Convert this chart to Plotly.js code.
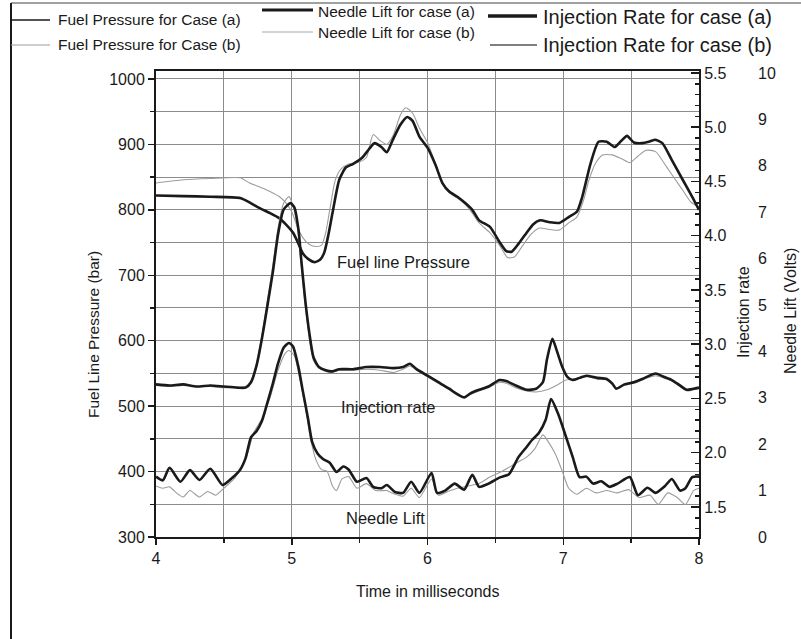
<!DOCTYPE html>
<html>
<head>
<meta charset="utf-8">
<script src="https://cdn.plot.ly/plotly-3.0.1.min.js"></script>
<style>
  html, body { margin: 0; padding: 0; background: #fff; }
  #chart { width: 801px; height: 639px; }
</style>
</head>
<body>
<div id="chart"></div>
<script>
// Fuel line pressure (bar), left axis
const fuelTimeA = [4.00, 4.20, 4.40, 4.62, 4.70, 4.76, 4.84, 4.91, 4.96, 5.01, 5.05, 5.08, 5.12, 5.17, 5.21, 5.24, 5.27, 5.30, 5.35, 5.40, 5.45, 5.52, 5.57, 5.61, 5.66, 5.70, 5.74, 5.80, 5.85, 5.89, 5.94, 6.00, 6.06, 6.11, 6.16, 6.22, 6.28, 6.33, 6.38, 6.46, 6.53, 6.58, 6.62, 6.67, 6.73, 6.78, 6.83, 6.90, 6.97, 7.04, 7.10, 7.14, 7.20, 7.26, 7.32, 7.38, 7.43, 7.47, 7.52, 7.58, 7.63, 7.68, 7.73, 7.80, 7.88, 7.95, 8.00];
const fuelPressA = [822, 821, 820, 818, 810, 803, 795, 787, 777, 765, 748, 734, 725, 720, 724, 735, 762, 795, 846, 865, 870, 880, 893, 902, 896, 888, 905, 930, 942, 936, 912, 895, 868, 841, 828, 820, 810, 800, 784, 774, 751, 737, 736, 748, 765, 778, 784, 781, 780, 789, 797, 820, 870, 904, 904, 896, 906, 913, 903, 902, 904, 907, 902, 876, 846, 820, 800];

const fuelTimeB = [4.00, 4.20, 4.40, 4.62, 4.69, 4.80, 4.91, 4.96, 5.00, 5.04, 5.08, 5.13, 5.18, 5.22, 5.25, 5.28, 5.32, 5.36, 5.42, 5.50, 5.55, 5.60, 5.65, 5.70, 5.75, 5.80, 5.84, 5.89, 5.94, 6.00, 6.06, 6.11, 6.16, 6.22, 6.28, 6.33, 6.38, 6.46, 6.53, 6.59, 6.64, 6.70, 6.76, 6.82, 6.90, 6.97, 7.04, 7.10, 7.15, 7.19, 7.24, 7.29, 7.36, 7.43, 7.49, 7.55, 7.61, 7.68, 7.76, 7.82, 7.88, 7.94, 8.00];
const fuelPressB = [841, 846, 848, 849, 841, 832, 820, 810, 797, 775, 758, 747, 744, 746, 765, 800, 845, 862, 870, 873, 880, 915, 906, 900, 915, 945, 956, 948, 925, 903, 870, 840, 826, 818, 808, 795, 780, 765, 746, 727, 728, 745, 762, 772, 770, 769, 780, 789, 815, 846, 872, 884, 884, 878, 872, 882, 891, 889, 866, 848, 830, 812, 804];

// Injection rate, first right axis
const injTimeA = [4.00, 4.10, 4.20, 4.30, 4.40, 4.50, 4.60, 4.66, 4.70, 4.74, 4.78, 4.82, 4.86, 4.90, 4.94, 4.99, 5.02, 5.05, 5.07, 5.10, 5.13, 5.16, 5.20, 5.25, 5.30, 5.35, 5.45, 5.55, 5.65, 5.75, 5.82, 5.87, 5.92, 6.00, 6.08, 6.16, 6.22, 6.27, 6.32, 6.38, 6.45, 6.53, 6.58, 6.65, 6.73, 6.80, 6.85, 6.88, 6.92, 6.95, 6.99, 7.03, 7.07, 7.12, 7.17, 7.25, 7.32, 7.36, 7.39, 7.45, 7.52, 7.60, 7.68, 7.74, 7.80, 7.86, 7.91, 7.96, 8.00];
const injRateA = [2.63, 2.62, 2.63, 2.61, 2.62, 2.61, 2.60, 2.60, 2.65, 2.80, 3.05, 3.35, 3.66, 4.02, 4.24, 4.30, 4.26, 4.05, 3.78, 3.40, 3.10, 2.88, 2.79, 2.76, 2.75, 2.77, 2.77, 2.79, 2.79, 2.78, 2.79, 2.82, 2.77, 2.71, 2.65, 2.59, 2.54, 2.51, 2.55, 2.58, 2.61, 2.67, 2.66, 2.62, 2.58, 2.59, 2.65, 2.86, 3.05, 2.95, 2.80, 2.70, 2.67, 2.69, 2.71, 2.69, 2.68, 2.64, 2.59, 2.63, 2.65, 2.69, 2.73, 2.70, 2.67, 2.62, 2.58, 2.59, 2.60];

const injTimeB = [4.00, 4.10, 4.20, 4.30, 4.40, 4.50, 4.60, 4.66, 4.70, 4.74, 4.78, 4.82, 4.86, 4.90, 4.94, 4.98, 5.02, 5.05, 5.07, 5.10, 5.13, 5.16, 5.20, 5.25, 5.30, 5.35, 5.45, 5.55, 5.65, 5.75, 5.82, 5.87, 5.92, 6.00, 6.08, 6.16, 6.22, 6.27, 6.32, 6.38, 6.45, 6.53, 6.58, 6.65, 6.73, 6.80, 6.88, 6.95, 7.02, 7.10, 7.17, 7.25, 7.32, 7.36, 7.39, 7.45, 7.52, 7.60, 7.68, 7.74, 7.80, 7.86, 7.91, 7.96, 8.00];
const injRateB = [2.62, 2.61, 2.62, 2.61, 2.61, 2.60, 2.60, 2.61, 2.66, 2.82, 3.08, 3.40, 3.72, 4.08, 4.30, 4.36, 4.22, 4.00, 3.72, 3.35, 3.05, 2.85, 2.78, 2.75, 2.74, 2.76, 2.76, 2.77, 2.76, 2.74, 2.77, 2.80, 2.76, 2.70, 2.64, 2.58, 2.53, 2.51, 2.54, 2.57, 2.60, 2.65, 2.64, 2.60, 2.57, 2.56, 2.58, 2.62, 2.67, 2.68, 2.70, 2.68, 2.67, 2.63, 2.60, 2.62, 2.64, 2.68, 2.71, 2.69, 2.66, 2.61, 2.57, 2.58, 2.59];

// Needle lift (Volts), second right axis
const liftTimeA = [4.00, 4.05, 4.10, 4.18, 4.25, 4.32, 4.40, 4.49, 4.56, 4.62, 4.66, 4.70, 4.74, 4.78, 4.82, 4.86, 4.90, 4.94, 4.98, 5.01, 5.05, 5.08, 5.12, 5.15, 5.19, 5.23, 5.28, 5.33, 5.38, 5.42, 5.48, 5.55, 5.60, 5.66, 5.70, 5.76, 5.82, 5.88, 5.94, 6.03, 6.07, 6.13, 6.20, 6.27, 6.33, 6.38, 6.45, 6.53, 6.60, 6.67, 6.73, 6.77, 6.82, 6.87, 6.91, 6.96, 7.02, 7.07, 7.12, 7.17, 7.22, 7.28, 7.34, 7.40, 7.49, 7.55, 7.62, 7.68, 7.75, 7.80, 7.86, 7.90, 7.95, 8.00];
const liftVoltsA = [1.30, 1.22, 1.49, 1.19, 1.44, 1.23, 1.47, 1.12, 1.27, 1.45, 1.70, 2.15, 2.28, 2.50, 2.89, 3.30, 3.75, 4.08, 4.18, 4.10, 3.65, 3.17, 2.55, 2.05, 1.80, 1.68, 1.60, 1.40, 1.52, 1.45, 1.19, 1.27, 1.08, 1.05, 1.12, 0.97, 0.95, 1.19, 0.95, 1.38, 0.95, 1.00, 1.15, 1.02, 1.34, 1.08, 1.15, 1.28, 1.35, 1.72, 1.94, 2.09, 2.24, 2.52, 2.97, 2.67, 2.16, 1.72, 1.29, 1.30, 1.15, 1.20, 1.08, 1.15, 1.29, 0.90, 1.06, 0.95, 1.10, 1.25, 1.00, 1.05, 1.29, 1.30];

const liftTimeB = [4.00, 4.05, 4.10, 4.15, 4.20, 4.25, 4.32, 4.38, 4.44, 4.50, 4.58, 4.63, 4.68, 4.72, 4.78, 4.84, 4.90, 4.95, 4.98, 5.02, 5.06, 5.10, 5.14, 5.18, 5.22, 5.26, 5.30, 5.33, 5.37, 5.42, 5.48, 5.55, 5.62, 5.70, 5.76, 5.82, 5.88, 5.94, 6.03, 6.08, 6.15, 6.22, 6.30, 6.38, 6.46, 6.54, 6.60, 6.67, 6.73, 6.79, 6.85, 6.89, 6.94, 6.99, 7.04, 7.10, 7.17, 7.24, 7.32, 7.40, 7.48, 7.56, 7.64, 7.70, 7.77, 7.84, 7.90, 7.96, 8.00];
const liftVoltsB = [1.10, 1.05, 1.08, 0.95, 0.86, 1.00, 0.86, 0.98, 0.90, 1.05, 1.27, 1.50, 1.85, 2.25, 2.55, 3.00, 3.60, 3.95, 4.02, 3.90, 3.40, 2.80, 2.10, 1.65, 1.45, 1.42, 1.10, 1.00, 1.25, 1.30, 1.05, 1.15, 1.00, 1.00, 0.92, 0.88, 1.05, 0.85, 1.25, 0.90, 0.98, 1.05, 1.10, 1.15, 1.29, 1.40, 1.50, 1.62, 1.72, 1.90, 2.20, 2.05, 1.80, 1.44, 1.05, 0.92, 1.05, 0.95, 1.00, 0.95, 1.02, 0.85, 0.90, 0.70, 0.95, 0.85, 0.70, 1.00, 1.05];

// Axis tick values and texts
const timeTicks = [4, 5, 6, 7, 8];
const pressureTicks = [300, 400, 500, 600, 700, 800, 900, 1000];
const injectionTicks = [1.5, 2.0, 2.5, 3.0, 3.5, 4.0, 4.5, 5.0, 5.5];
const injectionTickText = ['1.5', '2.0', '2.5', '3.0', '3.5', '4.0', '4.5', '5.0', '5.5'];
const liftTicks = [0, 1, 2, 3, 4, 5, 6, 7, 8, 9, 10];

const legendLabels = [
  'Fuel Pressure for Case (a)', 'Fuel Pressure for Case (b)',
  'Needle Lift for case (a)', 'Needle Lift for case (b)',
  'Injection Rate for case (a)', 'Injection Rate for case (b)'
];

// ---- page geometry (pixels) ----
const W = 801, H = 639;
const M = { l: 156, r: 0, t: 71, b: 102 };
const plotRight = 699;
const paperW = W - M.l - M.r, paperH = H - M.t - M.b;
const px = x => (x - M.l) / paperW;          // page x -> paper x
const py = y => (H - M.b - y) / paperH;      // page y -> paper y

const FONT = 'Liberation Sans, Arial, sans-serif';
const INK = '#1a1a1a';
const GRID = '#8c8c8c';
const THIN = '#9c9c9c';

const line = (x, y, axis, width, color) => ({
  x, y, yaxis: axis, type: 'scatter', mode: 'lines', showlegend: false,
  hoverinfo: 'skip',
  line: { color, width, shape: 'spline', smoothing: 0.6 }
});

const traces = [
  line(fuelTimeB, fuelPressB, 'y', 1.1, THIN),
  line(injTimeB, injRateB, 'y2', 1.1, THIN),
  line(liftTimeB, liftVoltsB, 'y3', 1.1, THIN),
  line(fuelTimeA, fuelPressA, 'y', 2.6, INK),
  line(injTimeA, injRateA, 'y2', 2.6, INK),
  line(liftTimeA, liftVoltsA, 'y3', 2.6, INK)
];

// white panels behind the in-plot labels (they break the grid)
const panel = (x0, x1, y0, y1) => ({
  type: 'rect', xref: 'paper', yref: 'paper', layer: 'between',
  x0: px(x0), x1: px(x1), y0: py(y1), y1: py(y0),
  fillcolor: '#ffffff', line: { width: 0 }
});
const seg = (x0, x1, y0, y1, width, color) => ({
  type: 'line', xref: 'paper', yref: 'paper',
  x0: px(x0), x1: px(x1), y0: py(y0), y1: py(y1),
  line: { color, width }
});

const shapes = [
  panel(326, 482, 246, 279),
  panel(327, 448, 393, 423),
  panel(333, 440, 504, 535),
  // outer frame
  seg(11, 801, 3, 3, 1.5, '#808080'),
  seg(11, 11, 3, 639, 2, INK),
  // legend keys
  seg(11, 50, 20, 20, 1.5, INK),
  seg(11, 50, 45, 45, 1.2, THIN),
  seg(262, 313, 10, 10, 3, INK),
  seg(262, 313, 32, 32, 1.2, '#a8a8a8'),
  seg(488, 537, 16, 16, 3.5, INK),
  seg(490, 537, 45, 45, 1.5, '#555555')
];

const note = (text, x, y, size, extra) => Object.assign({
  text, xref: 'paper', yref: 'paper', x: px(x), y: py(y),
  xanchor: 'center', yanchor: 'middle', showarrow: false,
  font: { family: FONT, size, color: INK }
}, extra || {});

const annotations = [
  note('Fuel line Pressure', 403, 262, 16.5),
  note('Injection rate', 388, 407, 16.5),
  note('Needle Lift', 385, 518, 16.5),
  note('Time in milliseconds', 427, 591, 16),
  note('Fuel Line Pressure (bar)', 93, 335, 15.5, { textangle: -90 }),
  note('Injection rate', 743, 312, 16, { textangle: -90 }),
  note('Needle Lift (Volts)', 790, 311, 16, { textangle: -90 }),
  note(legendLabels[0], 56, 20, 15.5, { xanchor: 'left' }),
  note(legendLabels[1], 56, 45, 15.5, { xanchor: 'left' }),
  note(legendLabels[2], 316, 11, 15.5, { xanchor: 'left' }),
  note(legendLabels[3], 316, 33, 15.5, { xanchor: 'left' }),
  note(legendLabels[4], 541, 17, 20, { xanchor: 'left' }),
  note(legendLabels[5], 541, 45, 20, { xanchor: 'left' })
];

const tickFont = { family: FONT, size: 16, color: INK };

const layout = {
  width: W, height: H,
  margin: M,
  paper_bgcolor: '#ffffff', plot_bgcolor: '#ffffff',
  font: { family: FONT, size: 16, color: INK },
  showlegend: false,
  xaxis: {
    domain: [0, px(plotRight)],
    range: [4, 8], tickvals: timeTicks, ticktext: timeTicks.map(String),
    ticks: 'outside', ticklen: 6, tickwidth: 1.5, tickcolor: INK,
    showline: true, linecolor: INK, linewidth: 2, mirror: true,
    showgrid: true, gridcolor: GRID, gridwidth: 1,
    minor: { dtick: 0.5, tick0: 4, ticks: 'outside', ticklen: 4, tickcolor: INK, showgrid: true, gridcolor: GRID, gridwidth: 1 },
    tickfont: tickFont, zeroline: false, fixedrange: true
  },
  yaxis: {
    range: [300, 1012.2], tickvals: pressureTicks, ticktext: pressureTicks.map(String),
    ticks: 'outside', ticklen: 6, tickwidth: 1.5, tickcolor: INK,
    showline: true, linecolor: INK, linewidth: 2,
    showgrid: true, gridcolor: GRID, gridwidth: 1,
    minor: { dtick: 50, tick0: 300, ticks: 'outside', ticklen: 4, tickcolor: INK, showgrid: true, gridcolor: GRID, gridwidth: 1 },
    tickfont: tickFont, zeroline: false, fixedrange: true
  },
  yaxis2: {
    overlaying: 'y', side: 'right', anchor: 'x',
    range: [1.2235, 5.518], tickvals: injectionTicks, ticktext: injectionTickText,
    ticks: 'inside', ticklen: 8, tickwidth: 1.5, tickcolor: INK,
    showline: true, linecolor: INK, linewidth: 2,
    showgrid: false, zeroline: false,
    minor: { dtick: 0.1, tick0: 1.5, ticks: 'inside', ticklen: 4, tickcolor: INK },
    tickfont: tickFont, fixedrange: true
  },
  yaxis3: {
    overlaying: 'y', side: 'right', anchor: 'free', position: px(757),
    range: [-0.001, 10.043], tickvals: liftTicks, ticktext: liftTicks.map(String),
    ticks: '', showline: false, showgrid: false, zeroline: false,
    tickfont: tickFont, fixedrange: true
  },
  shapes, annotations
};

Plotly.newPlot('chart', traces, layout, { staticPlot: true, displayModeBar: false });
</script>
</body>
</html>
